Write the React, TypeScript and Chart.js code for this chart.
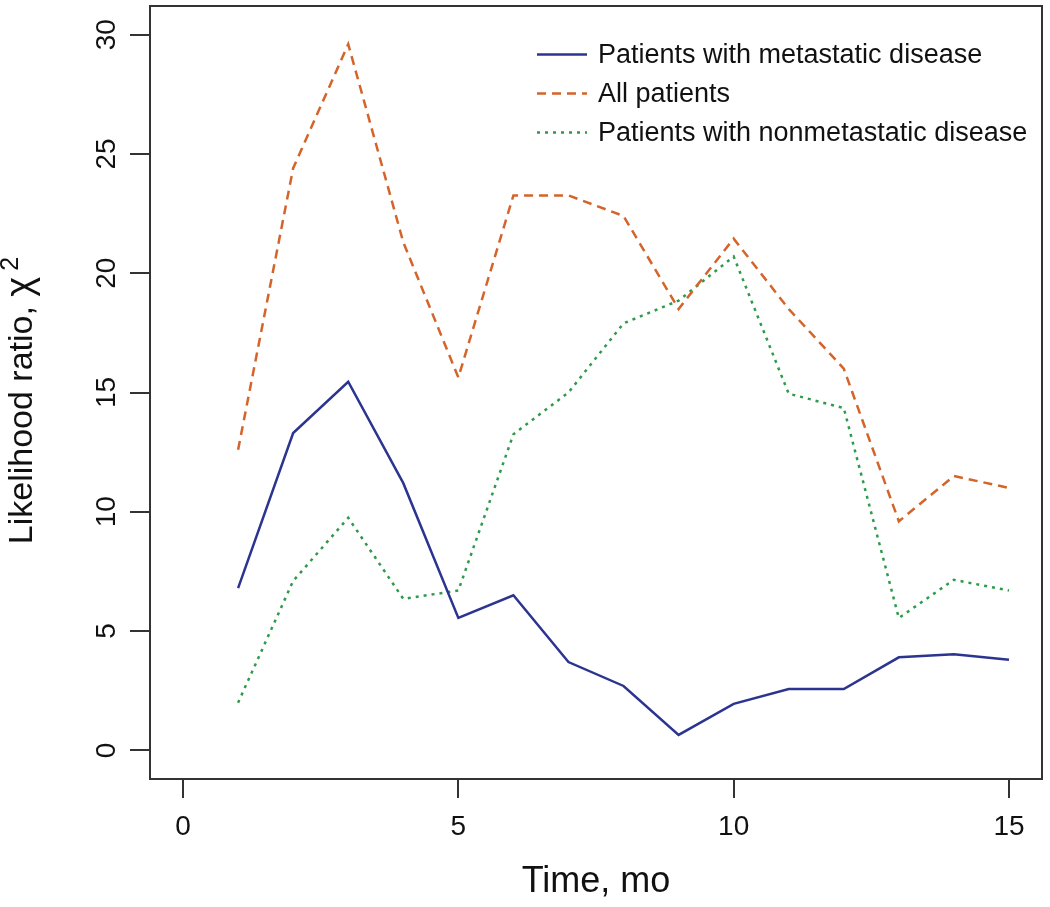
import React, { useEffect, useRef } from "react";
import { Chart, registerables } from "chart.js";

Chart.register(...registerables);

const months = [1, 2, 3, 4, 5, 6, 7, 8, 9, 10, 11, 12, 13, 14, 15];
const metastatic = [6.8, 13.3, 15.45, 11.2, 5.55, 6.5, 3.7, 2.7, 0.65, 1.95, 2.57, 2.57, 3.9, 4.03, 3.8];
const allPatients = [12.6, 24.4, 29.6, 21.3, 15.63, 23.26, 23.26, 22.4, 18.5, 21.45, 18.5, 16.0, 9.6, 11.5, 11.0];
const nonmetastatic = [2.0, 7.1, 9.75, 6.35, 6.7, 13.25, 15.0, 17.9, 18.85, 20.7, 14.95, 14.35, 5.55, 7.15, 6.7];
const seriesLabels = [
  "Patients with metastatic disease",
  "All patients",
  "Patients with nonmetastatic disease",
];
const xTicks = [0, 5, 10, 15];
const yTicks = [0, 5, 10, 15, 20, 25, 30];
const yTitleMain = "Likelihood ratio, ";
const yTitleSymbol = "χ";
const yTitleSup = "2";

const FONT = "'Liberation Sans', Arial, Helvetica, sans-serif";

const boxPlugin = {
  id: "rbox",
  afterDraw(chart: any) {
    const { ctx, chartArea } = chart;
    ctx.save();
    ctx.strokeStyle = "#333";
    ctx.lineWidth = 2;
    ctx.strokeRect(chartArea.left, chartArea.top, chartArea.right - chartArea.left, chartArea.bottom - chartArea.top);
    ctx.restore();
  },
};

const yTitlePlugin = {
  id: "ytitle",
  afterDraw(chart: any) {
    const { ctx, chartArea } = chart;
    ctx.save();
    const fMain = `34px ${FONT}`;
    const fSym = `38px ${FONT}`;
    const fSup = `25px ${FONT}`;
    ctx.font = fMain;
    const w1 = ctx.measureText(yTitleMain).width;
    ctx.font = fSym;
    const w2 = ctx.measureText(yTitleSymbol).width + 6;
    ctx.font = fSup;
    const w3 = ctx.measureText(yTitleSup).width;
    const total = w1 + w2 + w3;
    const cy = (chartArea.top + chartArea.bottom) / 2 + 8;
    ctx.translate(32, cy);
    ctx.rotate(-Math.PI / 2);
    ctx.fillStyle = "#111";
    ctx.textBaseline = "alphabetic";
    ctx.textAlign = "left";
    let x = -total / 2;
    ctx.font = fMain;
    ctx.fillText(yTitleMain, x, 0);
    x += w1;
    ctx.font = fSym;
    ctx.fillText(yTitleSymbol, x, 0);
    x += w2;
    ctx.font = fSup;
    ctx.fillText(yTitleSup, x, -14);
    ctx.restore();
  },
};

const legendPlugin = {
  id: "rlegend",
  afterDraw(chart: any) {
    const { ctx, chartArea } = chart;
    ctx.save();
    ctx.font = `27px ${FONT}`;
    ctx.textBaseline = "middle";
    ctx.textAlign = "left";
    chart.data.datasets.forEach((ds: any, i: number) => {
      const y = chartArea.top + 48.5 + i * 39;
      const x0 = chartArea.left + 387;
      ctx.strokeStyle = ds.borderColor;
      ctx.lineWidth = ds.borderWidth;
      ctx.setLineDash(ds.borderDash || []);
      ctx.beginPath();
      ctx.moveTo(x0, y);
      ctx.lineTo(x0 + 50, y);
      ctx.stroke();
      ctx.setLineDash([]);
      ctx.fillStyle = "#111";
      ctx.fillText(ds.label, x0 + 61, y + 1);
    });
    ctx.restore();
  },
};

export default function App() {
  const ref = useRef<HTMLCanvasElement | null>(null);
  useEffect(() => {
    if (!ref.current) return;
    const mk = (vals: number[]) => months.map((m, i) => ({ x: m, y: vals[i] }));
    const chart = new Chart(ref.current, {
      type: "line",
      data: {
        datasets: [
          {
            label: seriesLabels[0],
            data: mk(metastatic),
            borderColor: "#2b3590",
            borderWidth: 2.5,
            pointRadius: 0,
            tension: 0,
          },
          {
            label: seriesLabels[1],
            data: mk(allPatients),
            borderColor: "#d4642a",
            borderWidth: 2.5,
            borderDash: [9, 6],
            pointRadius: 0,
            tension: 0,
          },
          {
            label: seriesLabels[2],
            data: mk(nonmetastatic),
            borderColor: "#2e9a4a",
            borderWidth: 2.5,
            borderDash: [3, 5],
            pointRadius: 0,
            tension: 0,
          },
        ],
      },
      options: {
        responsive: false,
        animation: false,
        events: [],
        layout: { padding: { left: 0, top: 6, right: 8, bottom: 0 } },
        plugins: {
          legend: { display: false },
          tooltip: { enabled: false },
        },
        scales: {
          x: {
            type: "linear",
            min: -0.6,
            max: 15.6,
            afterBuildTicks: (s: any) => {
              s.ticks = xTicks.map((v) => ({ value: v }));
            },
            afterFit: (s: any) => {
              s.height = 128;
            },
            grid: { display: true, drawOnChartArea: false, drawTicks: true, tickLength: 19, color: "#333", lineWidth: 2 },
            border: { display: false },
            ticks: { color: "#111", font: { family: FONT, size: 28 }, padding: 12, maxRotation: 0, minRotation: 0 },
            title: {
              display: true,
              text: "Time, mo",
              color: "#111",
              font: { family: FONT, size: 36, lineHeight: 1.2 },
              padding: { top: 0, bottom: 3 },
            },
          },
          y: {
            type: "linear",
            min: -1.2,
            max: 31.2,
            afterBuildTicks: (s: any) => {
              s.ticks = yTicks.map((v) => ({ value: v }));
            },
            afterFit: (s: any) => {
              s.width = 150;
              s.paddingTop = 0;
              s.paddingBottom = 0;
            },
            grid: { display: true, drawOnChartArea: false, drawTicks: true, tickLength: 20, color: "#333", lineWidth: 2 },
            border: { display: false },
            ticks: {
              color: "#111",
              font: { family: FONT, size: 28 },
              padding: 7,
              minRotation: 90,
              maxRotation: 90,
              crossAlign: "center",
            },
            title: { display: false },
          },
        },
      },
      plugins: [boxPlugin, yTitlePlugin, legendPlugin],
    } as any);
    return () => chart.destroy();
  }, []);
  return (
    <div style={{ position: "fixed", left: 0, top: 0, width: 1050, height: 907, background: "#fff" }}>
      <canvas ref={ref} width={1050} height={907} style={{ display: "block" }} />
    </div>
  );
}
